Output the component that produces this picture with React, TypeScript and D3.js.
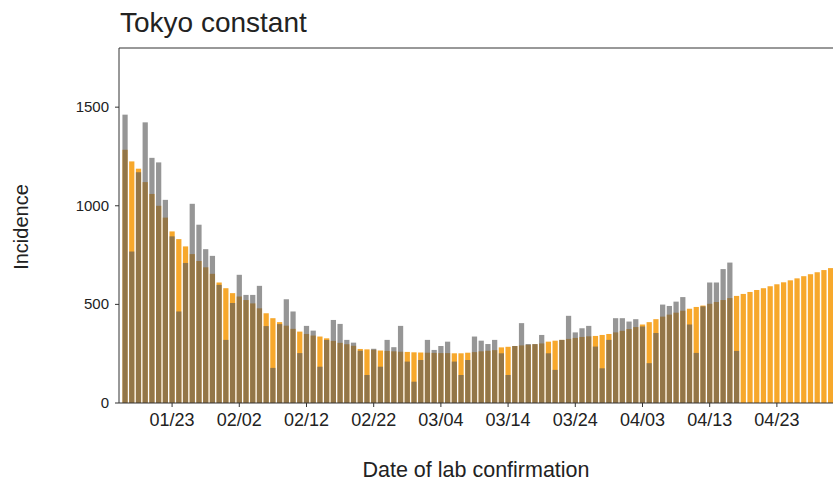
import React from "react";
import * as d3 from "d3";

const startDate = "2021-01-16";
const fitted: number[] = [
  1284, 1225, 1188, 1120, 1060, 1000, 940, 870, 831, 794,
  755, 720, 688, 655, 611, 582, 557, 540, 522, 505,
  480, 455, 430, 410, 392, 376, 362, 350, 342, 337,
  328, 315, 305, 298, 290, 274, 272, 270, 266, 264,
  262, 260, 259, 257, 256, 255, 254, 253, 253, 252,
  252, 255, 258, 262, 265, 268, 282, 285, 289, 292,
  295, 298, 302, 311, 316, 320, 325, 330, 335, 338,
  340, 345, 350, 358, 366, 375, 385, 398, 410, 425,
  438, 448, 458, 468, 478, 487, 494, 503, 512, 522,
  532, 543, 553, 563, 573, 582, 592, 602, 612, 622,
  632, 643, 653, 663, 674, 684,
];
const observed: number[] = [
  1462, 768, 1170, 1423, 1243, 1220, 1030, 845, 464, 710,
  1010, 904, 780, 746, 599, 320, 507, 650, 548, 548,
  594, 390, 178, 400, 526, 464, 253, 391, 367, 184,
  320, 421, 401, 320, 306, 265, 142, 275, 184, 320,
  283, 391, 210, 108, 218, 320, 269, 289, 311, 210,
  142, 218, 337, 316, 299, 320, 252, 142, 289, 405,
  299, 299, 345, 252, 168, 320, 442, 358, 379, 391,
  286, 176, 320, 430, 430, 413, 425, 388, 202, 355,
  499, 492, 514, 537, 398, 254, 490, 611, 611, 679,
  712, 264,
];
const tickLabels = ["01/23", "02/02", "02/12", "02/22", "03/04", "03/14", "03/24", "04/03", "04/13", "04/23"];
const yTicks = [0, 500, 1000, 1500];

const W = 833;
const H = 482;
const left = 119;
const top = 48;
const bottom = 403;
const font = "'Liberation Sans', Arial, Helvetica, sans-serif";

export default function App() {
  const start = new Date(startDate + "T00:00:00");
  const fmt = d3.timeFormat("%m/%d");
  const dayIndex = (lbl: string) => {
    for (let i = 0; i < fitted.length; i++) {
      const d = d3.timeDay.offset(start, i);
      if (fmt(d) === lbl) return i;
    }
    return -1;
  };
  const x = d3.scaleLinear().domain([-0.9, 105.9]).range([left, left + 106.8 * 6.72]);
  const y = d3.scaleLinear().domain([0, 1800]).range([bottom, top]);
  const bw = 6.72 * 0.78;

  return (
    <svg width={W} height={H} style={{ display: "block", position: "absolute", left: 0, top: 0 }} fontFamily={font}>
      <rect x={0} y={0} width={W} height={H} fill="#fff" />
      <text x={120} y={32} fontSize={28} fill="#222">Tokyo constant</text>
      <g>
        {fitted.map((v, i) => (
          <rect key={"f" + i} x={x(i) - bw / 2} y={y(v)} width={bw} height={y(0) - y(v)} fill="#F7A82C" />
        ))}
        {observed.map((v, i) => (
          <rect key={"o" + i} x={x(i) - bw / 2} y={y(v)} width={bw} height={y(0) - y(v)} fill="#585858" fillOpacity={0.63} />
        ))}
      </g>
      <g stroke="#333" strokeWidth={1} fill="none">
        <line x1={left} y1={top} x2={W + 5} y2={top} />
        <line x1={left} y1={top} x2={left} y2={bottom} />
        <line x1={left} y1={bottom} x2={W + 5} y2={bottom} />
      </g>
      {yTicks.map((t) => (
        <g key={"y" + t}>
          <line x1={left - 4} x2={left} y1={y(t)} y2={y(t)} stroke="#333" />
          <text x={left - 10} y={y(t) + 5} textAnchor="end" fontSize={15} fill="#222">{t}</text>
        </g>
      ))}
      {tickLabels.map((lbl) => {
        const i = dayIndex(lbl);
        return (
          <g key={lbl}>
            <line x1={x(i)} x2={x(i)} y1={bottom} y2={bottom + 4} stroke="#333" />
            <text x={x(i)} y={426} textAnchor="middle" fontSize={18} fill="#222">{lbl}</text>
          </g>
        );
      })}
      <text x={476} y={477} textAnchor="middle" fontSize={21.5} fill="#222">Date of lab confirmation</text>
      <text transform={`translate(28,227) rotate(-90)`} textAnchor="middle" fontSize={20} fill="#222">Incidence</text>
    </svg>
  );
}
